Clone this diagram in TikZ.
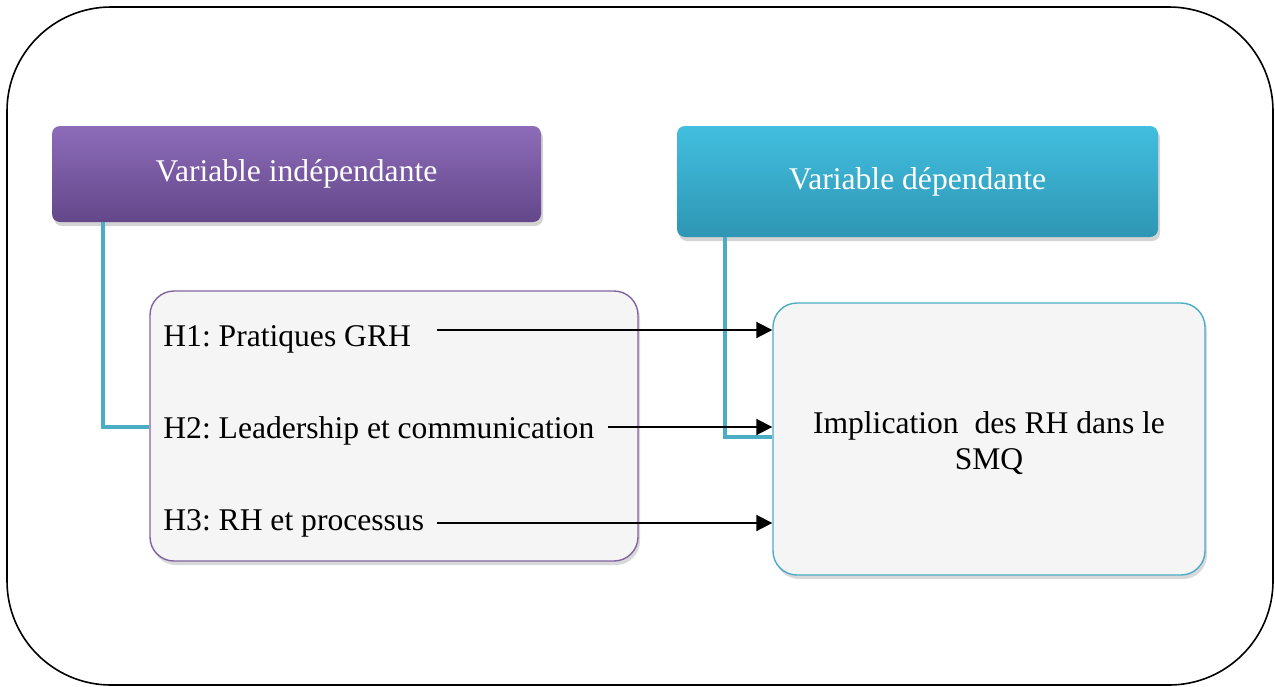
\documentclass[tikz,border=0pt]{standalone}
\usepackage{fontspec}
\setmainfont{Liberation Serif}
\usetikzlibrary{shadows,arrows.meta}
\definecolor{purpA}{HTML}{8D6CB9}
\definecolor{purpB}{HTML}{63478A}
\definecolor{cyanA}{HTML}{42BEDF}
\definecolor{cyanB}{HTML}{2E96B4}
\definecolor{linkc}{HTML}{4BACC6}
\definecolor{purpline}{HTML}{8064A2}
\definecolor{boxfill}{HTML}{F5F5F5}
\tikzset{
  txt/.style={font=\fontsize{15.8}{18}\selectfont\frenchspacing},
  headbox/.style={txt, text=white, rounded corners=4pt, inner sep=0pt,
    drop shadow={opacity=0.35, shadow xshift=1pt, shadow yshift=-2pt}},
  hbox/.style={rounded corners=12pt, fill=boxfill, line width=0.7pt,
    drop shadow={opacity=0.3, shadow xshift=1pt, shadow yshift=-2pt}, inner sep=0pt},
  link/.style={draw=linkc, line width=2.2pt},
  arr/.style={draw=black, line width=1pt, -{Triangle[length=8pt,width=8pt]}},
  htext/.style={txt, anchor=base west, inner sep=0pt}
}
\begin{document}
\begin{tikzpicture}[x=0.5pt,y=-0.5pt]
\useasboundingbox (0,0) rectangle (1275,686);
\draw[line width=0.8pt, rounded corners=52pt] (7,7) rectangle (1273,685);

\node[headbox, top color=purpA, bottom color=purpB, minimum width=244.5pt, minimum height=48pt] (vi) at (296.5,174) {Variable indépendante};
\node[headbox, top color=cyanA, bottom color=cyanB, minimum width=240.5pt, minimum height=55.5pt] (vd) at (917.5,181.5) {Variable dépendante};

\node[hbox, draw=purpline, minimum width=244pt, minimum height=135pt] (lbox) at (394,426) {};
\node[hbox, draw=linkc, minimum width=216pt, minimum height=136pt] (rbox) at (989,439) {};
\node[txt, align=center, inner sep=0pt] (rtext) at (989,443) {Implication\ \ des RH dans le\\SMQ};

\node[htext] (h1) at (163,346) {H1: Pratiques GRH};
\node[htext] (h2) at (163,438) {H2: Leadership et communication};
\node[htext] (h3) at (163,530) {H3: RH et processus};

\coordinate (a1) at (437,330);
\coordinate (a2) at (608,427);
\coordinate (a3) at (437,523);
\coordinate (l1) at (103,427);
\coordinate (l2) at (725,437);

\draw[link] (vi.south -| l1) -- (l1) -- (l1 -| lbox.west);
\draw[link] (vd.south -| l2) -- (l2) -- (l2 -| rbox.west);

\draw[arr] (a1) -- (a1 -| rbox.west);
\draw[arr] (a2) -- (a2 -| rbox.west);
\draw[arr] (a3) -- (a3 -| rbox.west);
\end{tikzpicture}
\end{document}
